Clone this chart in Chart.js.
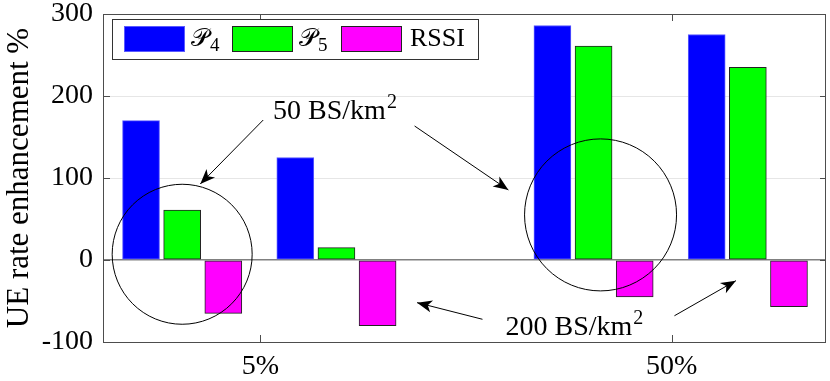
<!DOCTYPE html>
<html><head><meta charset="utf-8">
<script src="https://cdn.jsdelivr.net/npm/chart.js@4/dist/chart.umd.min.js"></script>
<style>html,body{margin:0;padding:0;background:#fff;overflow:hidden}#wrap{width:830px;height:381px}</style>
</head><body><div id="wrap"><canvas id="c" width="830" height="381"></canvas></div>
<script>
// ---- data ----
const groupX = [0.81, 1.185, 1.81, 2.185];   // 5%:50BS, 5%:200BS, 50%:50BS, 50%:200BS
const tickValues = [1, 2];
const tickLabels = ['5%', '50%'];
const seriesNames = ['𝒫4', '𝒫5', 'RSSI'];
const p4 = [170, 125, 286, 275];
const p5 = [61, 15, 261, 235];
const rssi = [-65, -80, -45, -57];
const yMin = -100, yMax = 300, yStep = 100;
const yTitle = 'UE rate enhancement %';
const note50 = '50 BS/km';
const note200 = '200 BS/km';

// ---- styles ----
const SERIF = "'Liberation Serif'";
Chart.defaults.font.family = SERIF;
const colors = ['#0000ff', '#00ff00', '#ff00ff'];
const borders = ['#5a5aff', '#222222', '#222222'];
const offsets = [-0.1, 0, 0.1];
const allSeries = [p4, p5, rssi];

const datasets = allSeries.map((vals, s) => ({
  label: seriesNames[s],
  data: vals.map((v, i) => ({x: groupX[i] + offsets[s], y: v})),
  backgroundColor: colors[s],
  borderColor: borders[s],
  borderWidth: 1,
  borderSkipped: false,
  barThickness: 37,
  grouped: false
}));

// annotation geometry (data coordinates)
const circles = [{x: groupX[0], y: 7, r: 70}, {x: 1.827, y: 55, r: 76}];
const arrows = [
  {x1: 1.007, y1: 170.7, x2: 0.854, y2: 92.7},
  {x1: 1.375, y1: 163.4, x2: 1.603, y2: 85.4},
  {x1: 1.540, y1: -72.3, x2: 1.381, y2: -52},
  {x1: 2.0066, y1: -68, x2: 2.156, y2: -25.2}
];
const notes = [{text: note50, x: 1.031, y: 172}, {text: note200, x: 1.596, y: -91.5}];

function arrow(ctx, x1, y1, x2, y2) {
  ctx.beginPath(); ctx.moveTo(x1, y1); ctx.lineTo(x2, y2); ctx.stroke();
  const ang = Math.atan2(y2 - y1, x2 - x1);
  const L = 15, W = 6, back = 11;
  const cx = Math.cos(ang), sx = Math.sin(ang);
  const bx = x2 - L * cx, by = y2 - L * sx;
  const mx = x2 - back * cx, my = y2 - back * sx;
  ctx.beginPath();
  ctx.moveTo(x2, y2);
  ctx.lineTo(bx - W * sx, by + W * cx);
  ctx.lineTo(mx, my);
  ctx.lineTo(bx + W * sx, by - W * cx);
  ctx.closePath(); ctx.fill();
}

const decor = {
  id: 'decor',
  afterDatasetsDraw(chart) {
    const {ctx, chartArea: a, scales: {x, y}} = chart;
    ctx.save();
    ctx.strokeStyle = '#000'; ctx.fillStyle = '#000'; ctx.lineWidth = 1;
    circles.forEach(c => {
      ctx.beginPath();
      ctx.arc(x.getPixelForValue(c.x), y.getPixelForValue(c.y), c.r, 0, Math.PI * 2);
      ctx.stroke();
    });
    arrows.forEach(r => arrow(ctx, x.getPixelForValue(r.x1), y.getPixelForValue(r.y1),
                                   x.getPixelForValue(r.x2), y.getPixelForValue(r.y2)));
    ctx.textBaseline = 'alphabetic'; ctx.textAlign = 'left';
    notes.forEach(n => {
      const px = x.getPixelForValue(n.x), py = y.getPixelForValue(n.y);
      ctx.font = '28px ' + SERIF;
      ctx.fillText(n.text, px, py);
      const w = ctx.measureText(n.text).width;
      ctx.font = '20px ' + SERIF;
      ctx.fillText('2', px + w + 1, py - 11);
    });
    // frame
    ctx.strokeStyle = '#4d4d4d'; ctx.lineWidth = 1;
    ctx.strokeRect(a.left - 0.5, a.top + 0.5, a.right - a.left, a.bottom - a.top);
    // inward ticks
    ctx.beginPath();
    for (let v = yMin + yStep; v < yMax; v += yStep) {
      const py = Math.round(y.getPixelForValue(v)) + 0.5;
      ctx.moveTo(a.left, py); ctx.lineTo(a.left + 6, py);
      ctx.moveTo(a.right, py); ctx.lineTo(a.right - 6, py);
    }
    tickValues.forEach(v => {
      const px = Math.round(x.getPixelForValue(v)) + 0.5;
      ctx.moveTo(px, a.top); ctx.lineTo(px, a.top + 7);
      ctx.moveTo(px, a.bottom); ctx.lineTo(px, a.bottom - 7);
    });
    ctx.stroke();
    // legend
    const lx = a.left + 8, ly = a.top + 5, lw = 366, lh = 40;
    ctx.fillStyle = '#fff'; ctx.fillRect(lx, ly, lw, lh);
    ctx.strokeStyle = '#333'; ctx.strokeRect(lx + 0.5, ly + 0.5, lw, lh);
    const sw = [lx + 12, lx + 120, lx + 229];
    sw.forEach((sx0, s) => {
      ctx.fillStyle = colors[s]; ctx.fillRect(sx0, ly + 7, 61, 26);
      ctx.strokeStyle = borders[s]; ctx.strokeRect(sx0 + 0.5, ly + 7.5, 60, 25);
      ctx.fillStyle = '#000';
      const tx = sx0 + 67, base = ly + 27;
      const name = seriesNames[s];
      if (name.startsWith('𝒫')) {
        ctx.font = '25px ' + SERIF;
        ctx.fillText('𝒫', tx, base);
        const w = ctx.measureText('𝒫').width;
        ctx.font = '19px ' + SERIF;
        ctx.fillText(name.slice(2), tx + w + 1, base + 5);
      } else {
        ctx.font = '26px ' + SERIF;
        ctx.fillText(name, tx + 2, base);
      }
    });
    ctx.restore();
  }
};

new Chart(document.getElementById('c'), {
  type: 'bar',
  data: {datasets},
  options: {
    responsive: false, animation: false, devicePixelRatio: 1,
    layout: {padding: {left: 0, top: 14, right: 4, bottom: 0}},
    plugins: {legend: {display: false}, tooltip: {enabled: false}},
    scales: {
      x: {
        type: 'linear', min: 0.62, max: 2.375, offset: false,
        afterBuildTicks: s => { s.ticks = tickValues.map(v => ({value: v})); },
        afterFit: s => { s.height = 39; s.paddingLeft = 0; s.paddingRight = 0; },
        grid: {display: false, drawTicks: false},
        border: {display: false},
        ticks: {
          padding: 8, color: '#000', font: {family: SERIF, size: 28}, maxRotation: 0, autoSkip: false,
          callback: v => tickLabels[tickValues.indexOf(v)]
        }
      },
      y: {
        min: yMin, max: yMax,
        afterFit: s => { s.width = 104; s.paddingTop = 0; s.paddingBottom = 0; },
        grid: {
          drawTicks: false,
          color: c => c.tick.value === 0 ? '#808080' : '#e6e6e6',
          lineWidth: c => c.tick.value === 0 ? 1.5 : 1
        },
        border: {display: false},
        ticks: {stepSize: yStep, padding: 11, color: '#000', font: {family: SERIF, size: 28},
                callback: v => String(v)},
        title: {display: true, text: yTitle, color: '#000', font: {family: SERIF, size: 31},
                padding: {top: 1, bottom: 0}}
      }
    }
  },
  plugins: [decor]
});
</script></body></html>
